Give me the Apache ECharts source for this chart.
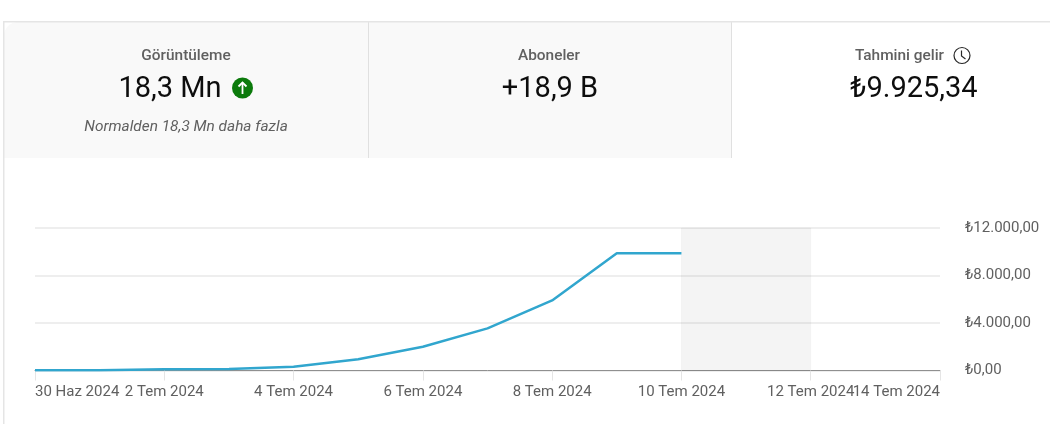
<!DOCTYPE html>
<html><head><meta charset="utf-8">
<style>html,body{margin:0;padding:0;background:#fff}#c{width:1050px;height:424px}</style>
<script src="https://cdn.jsdelivr.net/npm/echarts@6/dist/echarts.min.js"></script>
</head><body><div id="c"></div>
<script>
const categories = ['30 Haz 2024','1 Tem 2024','2 Tem 2024','3 Tem 2024','4 Tem 2024','5 Tem 2024','6 Tem 2024','7 Tem 2024','8 Tem 2024','9 Tem 2024','10 Tem 2024','11 Tem 2024','12 Tem 2024','13 Tem 2024','14 Tem 2024'];
const revenue = [20,30,110,130,320,950,2000,3550,5900,9880,9880];
const yTicks = {0:'₺0,00',4000:'₺4.000,00',8000:'₺8.000,00',12000:'₺12.000,00'};
const partialStart = '10 Tem 2024', partialEnd = '12 Tem 2024';
const tabs = {views:'Görüntüleme',viewsValue:'18,3 Mn',viewsNote:'Normalden 18,3 Mn daha fazla',subs:'Aboneler',subsValue:'+18,9 B',rev:'Tahmini gelir',revValue:'₺9.925,34'};

const FONT='Roboto', GREY='#606060', BLK='#0d0d0d';
const last=categories.length-1;
const t=(x,y,text,size,opt={})=>({type:'text',x,y,silent:true,z:10,style:Object.assign({text,fontFamily:FONT,fontSize:size,fill:GREY,align:'center',verticalAlign:'middle'},opt)});
const chart=echarts.init(document.getElementById('c'),null,{renderer:'canvas'});
chart.setOption({
 animation:false,
 grid:{left:35,right:110,top:228,height:142.5,containLabel:false},
 xAxis:[{type:'category',boundaryGap:false,data:categories,
  axisLine:{show:true,lineStyle:{color:'#909090',width:1}},
  axisTick:{show:true,length:10,interval:1,inside:false,lineStyle:{color:'#e5e5e5',width:1}},
  axisLabel:{interval:(i)=>i%2===0&&i<last,color:GREY,fontFamily:FONT,fontSize:15,margin:14,alignMinLabel:'left',hideOverlap:false,showMinLabel:true,showMaxLabel:true},
  splitLine:{show:false}},
  {type:'category',boundaryGap:false,data:categories,position:'bottom',
  axisLine:{show:false},axisTick:{show:false},splitLine:{show:false},
  axisLabel:{interval:(i)=>i===last,color:GREY,fontFamily:FONT,fontSize:15,margin:14,alignMinLabel:'right',alignMaxLabel:'right',hideOverlap:false,showMinLabel:true,showMaxLabel:true}}],
 yAxis:{type:'value',position:'right',min:0,max:12000,interval:4000,
  axisLine:{show:false},axisTick:{show:false},
  axisLabel:{color:GREY,fontFamily:FONT,fontSize:15,margin:25,padding:[3,0,0,0],formatter:v=>yTicks[v]},
  splitLine:{lineStyle:{color:'#e9e9e9',width:1.5}}},
 series:[{type:'line',data:revenue,symbol:'none',smooth:false,z:5,xAxisIndex:0,
  lineStyle:{color:'#31a6ce',width:2.5},
  markArea:{silent:true,z:1,itemStyle:{color:'rgba(0,0,0,0.045)',borderColor:'rgba(0,0,0,0.03)',borderWidth:1},
   data:[[{xAxis:partialStart},{xAxis:partialEnd}]]}}],
 graphic:[
  {type:'rect',z:1,silent:true,shape:{x:4,y:22,width:364,height:136,r:[14,0,0,0]},style:{fill:'#f9f9f9'}},
  {type:'rect',z:1,silent:true,shape:{x:369,y:22,width:362,height:136},style:{fill:'#f9f9f9'}},
  {type:'rect',z:2,silent:true,shape:{x:368,y:22,width:1,height:136},style:{fill:'#e0e0e0'}},
  {type:'rect',z:2,silent:true,shape:{x:731,y:22,width:1,height:136},style:{fill:'#e0e0e0'}},
  {type:'rect',z:2,silent:true,shape:{x:3,y:21,width:1047,height:1.5},style:{fill:'#e5e5e5'}},
  {type:'rect',z:2,silent:true,shape:{x:3,y:21,width:1.5,height:403},style:{fill:'#e5e5e5'}},
  t(186,56,tabs.views,15.4,{fontWeight:500}),
  t(170,90,tabs.viewsValue,29,{fill:BLK}),
  {type:'circle',z:10,silent:true,shape:{cx:242.5,cy:88,r:10.5},style:{fill:'#0b7a0b'}},
  {type:'polyline',z:11,silent:true,shape:{points:[[242.5,94],[242.5,82.5]]},style:{stroke:'#fff',lineWidth:1.8,fill:null}},
  {type:'polyline',z:11,silent:true,shape:{points:[[238.5,86.5],[242.5,82.5],[246.5,86.5]]},style:{stroke:'#fff',lineWidth:1.8,fill:null}},
  t(186,127,tabs.viewsNote,15.4,{fontStyle:'italic'}),
  t(549,56,tabs.subs,15.4,{fontWeight:500}),
  t(550,90,tabs.subsValue,29,{fill:BLK}),
  t(899.5,56,tabs.rev,15.4,{fontWeight:500}),
  {type:'circle',z:10,silent:true,shape:{cx:962,cy:55.5,r:8},style:{fill:'none',stroke:'#282828',lineWidth:1.2}},
  {type:'polyline',z:11,silent:true,shape:{points:[[961.5,50.5],[961.5,56],[965.5,59]]},style:{stroke:'#282828',lineWidth:1.2,fill:null}},
  t(914,90,tabs.revValue,29,{fill:BLK})
 ]
});
</script></body></html>
